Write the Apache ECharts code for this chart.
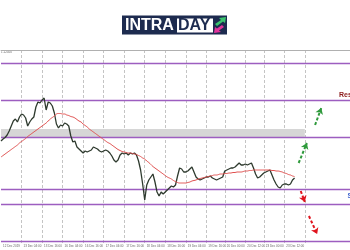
<!DOCTYPE html>
<html><head><meta charset="utf-8">
<script src="https://cdn.jsdelivr.net/npm/echarts/dist/echarts.min.js"></script>
<style>html,body{margin:0;padding:0;background:#fff}#c{width:350px;height:250px}</style>
</head><body><div id="c"></div>
<script>
const priceClose = [
1.1159,1.1161,1.11625,1.1165,1.1169,1.1174,1.1179,1.1181,1.1178,1.1183,
1.1186,1.1185,1.1182,1.1174,1.1178,1.1181,1.1183,1.1193,1.1198,1.1197,
1.1200,1.1202,1.1190,1.1198,1.1197,1.1194,1.1187,1.1176,1.1172,1.1175,
1.1174,1.1177,1.1176,1.1174,1.1164,1.1158,1.1159,1.1153,1.1151,1.1149,
1.1147,1.1149,1.1148,1.1149,1.1150,1.1153,1.1152,1.1151,1.1149,1.1148,
1.1149,1.1150,1.1149,1.1147,1.1144,1.1140,1.1138,1.1140,1.1145,1.1147,
1.1146,1.1147,1.1145,1.1147,1.1146,1.1147,1.1145,1.1139,1.1130,1.1116,
1.1100,1.1115,1.1120,1.1123,1.1126,1.1118,1.1108,1.1104,1.1108,1.1106,
1.1108,1.1110,1.1112,1.1114,1.1113,1.1115,1.1124,1.1132,1.1131,1.1128,
1.1128,1.1129,1.1131,1.1133,1.1128,1.1123,1.1121,1.1120,1.1121,1.1122,
1.1123,1.1123,1.1124,1.1122,1.1121,1.1120,1.1121,1.1122,1.1123,1.1129,
1.1130,1.1131,1.1132,1.1132,1.1133,1.1135,1.1137,1.1135,1.1135,1.1136,
1.1135,1.1136,1.1137,1.1132,1.1126,1.1122,1.1123,1.1125,1.1127,1.1128,
1.1129,1.1130,1.1125,1.1120,1.1116,1.1113,1.1112,1.1115,1.1116,1.1116,
1.1115,1.1116,1.1120,1.1122
];
const maValues = [
1.1143,1.11445,1.1146,1.11475,1.1149,1.11505,1.1152,1.11535,1.1155,1.1157,
1.11585,1.1160,1.11615,1.11635,1.1165,1.11665,1.1168,1.11695,1.1171,1.11725,
1.1174,1.11755,1.1177,1.1179,1.1181,1.11825,1.1184,1.1186,1.11865,1.11865,
1.1186,1.1186,1.1185,1.11845,1.11835,1.1183,1.1182,1.11805,1.1179,1.1178,
1.1176,1.11745,1.1173,1.1171,1.11695,1.1168,1.11665,1.1165,1.11635,1.1162,
1.11605,1.1159,1.11575,1.11565,1.1155,1.11535,1.1152,1.11505,1.11495,1.11485,
1.1148,1.11475,1.1147,1.1147,1.11465,1.1146,1.11455,1.11445,1.11435,1.1142,
1.1141,1.1139,1.11375,1.11355,1.11335,1.1132,1.11305,1.1129,1.11275,1.1126,
1.11245,1.1123,1.1122,1.1121,1.11195,1.11185,1.11175,1.1117,1.1117,1.1117,
1.1117,1.11175,1.1118,1.1119,1.11195,1.1120,1.1121,1.11215,1.1122,1.11225,
1.1123,1.11235,1.1124,1.11245,1.1125,1.1125,1.11255,1.1126,1.1126,1.11265,
1.11265,1.1127,1.1127,1.11275,1.11275,1.1128,1.1128,1.1128,1.11285,1.1129,
1.1129,1.11295,1.11295,1.1130,1.1130,1.1130,1.1130,1.1130,1.1130,1.1130,
1.1130,1.1130,1.11295,1.11295,1.1129,1.1129,1.11285,1.1128,1.1127,1.11265,
1.11255,1.1125,1.1124,1.11235
];
const levels = [1.12365, 1.11995, 1.11625, 1.11105, 1.10955, 1.10585];
const zoneBand = [1.1171, 1.11625];
const zoneEndIdx = 148;
const lastIdx = 170;
const tickIdx = [0,10,20,30,40,50,60,70,80,90,100,109,119,128,138];
const tickLabels = ['12 Dec 2019','13 Dec 04:00','13 Dec 16:00','16 Dec 04:00','16 Dec 16:00','17 Dec 04:00','17 Dec 16:00','18 Dec 04:00','18 Dec 16:00','19 Dec 04:00','19 Dec 16:00','20 Dec 00:00','20 Dec 12:00','23 Dec 00:00','23 Dec 12:00'];
const gridIdx = [10,20,30,40,50,60,70,80,90,100,109,119,128,138,148];
const bullArrows = [[145.2,1.1137,148.9,1.1157],[152.8,1.1175,155.7,1.1192]];
const bearArrows = [[146,1.1109,148.4,1.1098],[149.6,1.1084,154,1.1066]];
const yMin = 1.1057, yMax = 1.1250;
const topPriceLabel = '1.12500';
const categories = Array.from({length: 171}, (_, i) => 'bar ' + i);

const LEVEL_COLOR = '#9d5ec0';
const chart = echarts.init(document.getElementById('c'), null, {renderer: 'canvas'});
const arrowItem = (a, color) => [
  {coord: [a[0], a[1]], lineStyle: {color: color, type: [3, 2], width: 2}, itemStyle: {color: color}},
  {coord: [a[2], a[3]], itemStyle: {color: color}}
];
const levelSeries = levels.map((v, k) => ({
  name: 'Level ' + k, type: 'line', data: [[0, v], [lastIdx, v]], symbol: 'none', z: 2,
  silent: true, clip: false, lineStyle: {color: LEVEL_COLOR, width: 1.5}, itemStyle: {color: LEVEL_COLOR}
}));
chart.setOption({
  animation: false,
  backgroundColor: '#ffffff',
  textStyle: {fontFamily: 'Liberation Sans'},
  grid: {left: 0, right: 0, top: 50, bottom: 7, containLabel: false},
  xAxis: [{
    type: 'category', data: categories, boundaryGap: false,
    axisLine: {show: false}, axisTick: {show: false},
    axisLabel: {
      interval: (i) => tickIdx.includes(i),
      formatter: (v, i) => { const k = tickIdx.indexOf(i); return k >= 0 ? tickLabels[k] : ''; },
      fontSize: 3, color: '#666', align: 'left', margin: 2, padding: [0, 0, 0, 2]
    },
    splitLine: {show: true, interval: (i) => gridIdx.includes(i),
      lineStyle: {color: '#c4c4c4', type: [3, 2], width: 1}}
  }, {
    type: 'category', data: categories, boundaryGap: false, position: 'top',
    axisLine: {show: true, lineStyle: {color: '#b0b0b0', width: 1}},
    axisTick: {show: false}, axisLabel: {show: false}, splitLine: {show: false}
  }],
  yAxis: {type: 'value', min: yMin, max: yMax, show: false, splitLine: {show: false}},
  series: [{
    name: 'Price', type: 'line', data: priceClose, symbol: 'none', z: 3,
    lineStyle: {color: '#2e3a2e', width: 1.3}, itemStyle: {color: '#2e3a2e'},
    markArea: {silent: true, precision: 5, itemStyle: {color: '#d6d6d6'},
      data: [[{xAxis: 0, yAxis: zoneBand[0]}, {xAxis: zoneEndIdx, yAxis: zoneBand[1]}]]}
  }].concat(levelSeries).concat([{
    name: 'MA', type: 'line', data: maValues, symbol: 'none', smooth: true, z: 4,
    lineStyle: {color: '#e0504f', width: 1}, itemStyle: {color: '#e0504f'},
    markLine: {silent: true, precision: 5, symbol: ['none', 'arrow'], symbolSize: 6, label: {show: false},
      data: bullArrows.map(a => arrowItem(a, '#2f9a3c')).concat(bearArrows.map(a => arrowItem(a, '#e0141e')))}
  }]),
  graphic: [
    {type: 'text', left: 1, top: 50.5, style: {text: topPriceLabel, fontSize: 3, fill: '#666'}},
    {type: 'text', x: 339, y: 92, style: {text: 'Resistance', font: 'bold 7px Liberation Sans', fill: '#8b1a1a'}},
    {type: 'text', x: 347.5, y: 193, style: {text: 'Support', font: 'bold 7px Liberation Sans', fill: '#3a5fcd'}},
    {type: 'rect', shape: {x: 122, y: 15.5, width: 105, height: 19}, style: {fill: '#1d2b4f'}},
    {type: 'rect', shape: {x: 177, y: 18.5, width: 36, height: 14}, style: {fill: '#ffffff'}},
    {type: 'text', x: 125, y: 25.8, style: {text: 'INTRA', font: 'bold 16px Liberation Sans', fill: '#ffffff', verticalAlign: 'middle'}},
    {type: 'text', x: 178, y: 25.8, style: {text: 'DAY', font: 'bold 16px Liberation Sans', fill: '#1d2b4f', verticalAlign: 'middle'}},
    {type: 'polygon', shape: {points: [[215,24],[221,20],[219,18],[226,17],[225,23],[223,21.5],[217,26]]}, style: {fill: '#3cc46e'}},
    {type: 'polygon', shape: {points: [[214,33],[215,27],[217,28.5],[222,25],[224,27],[219,30.5],[221,32]]}, style: {fill: '#e2339b'}}
  ]
});
</script></body></html>
